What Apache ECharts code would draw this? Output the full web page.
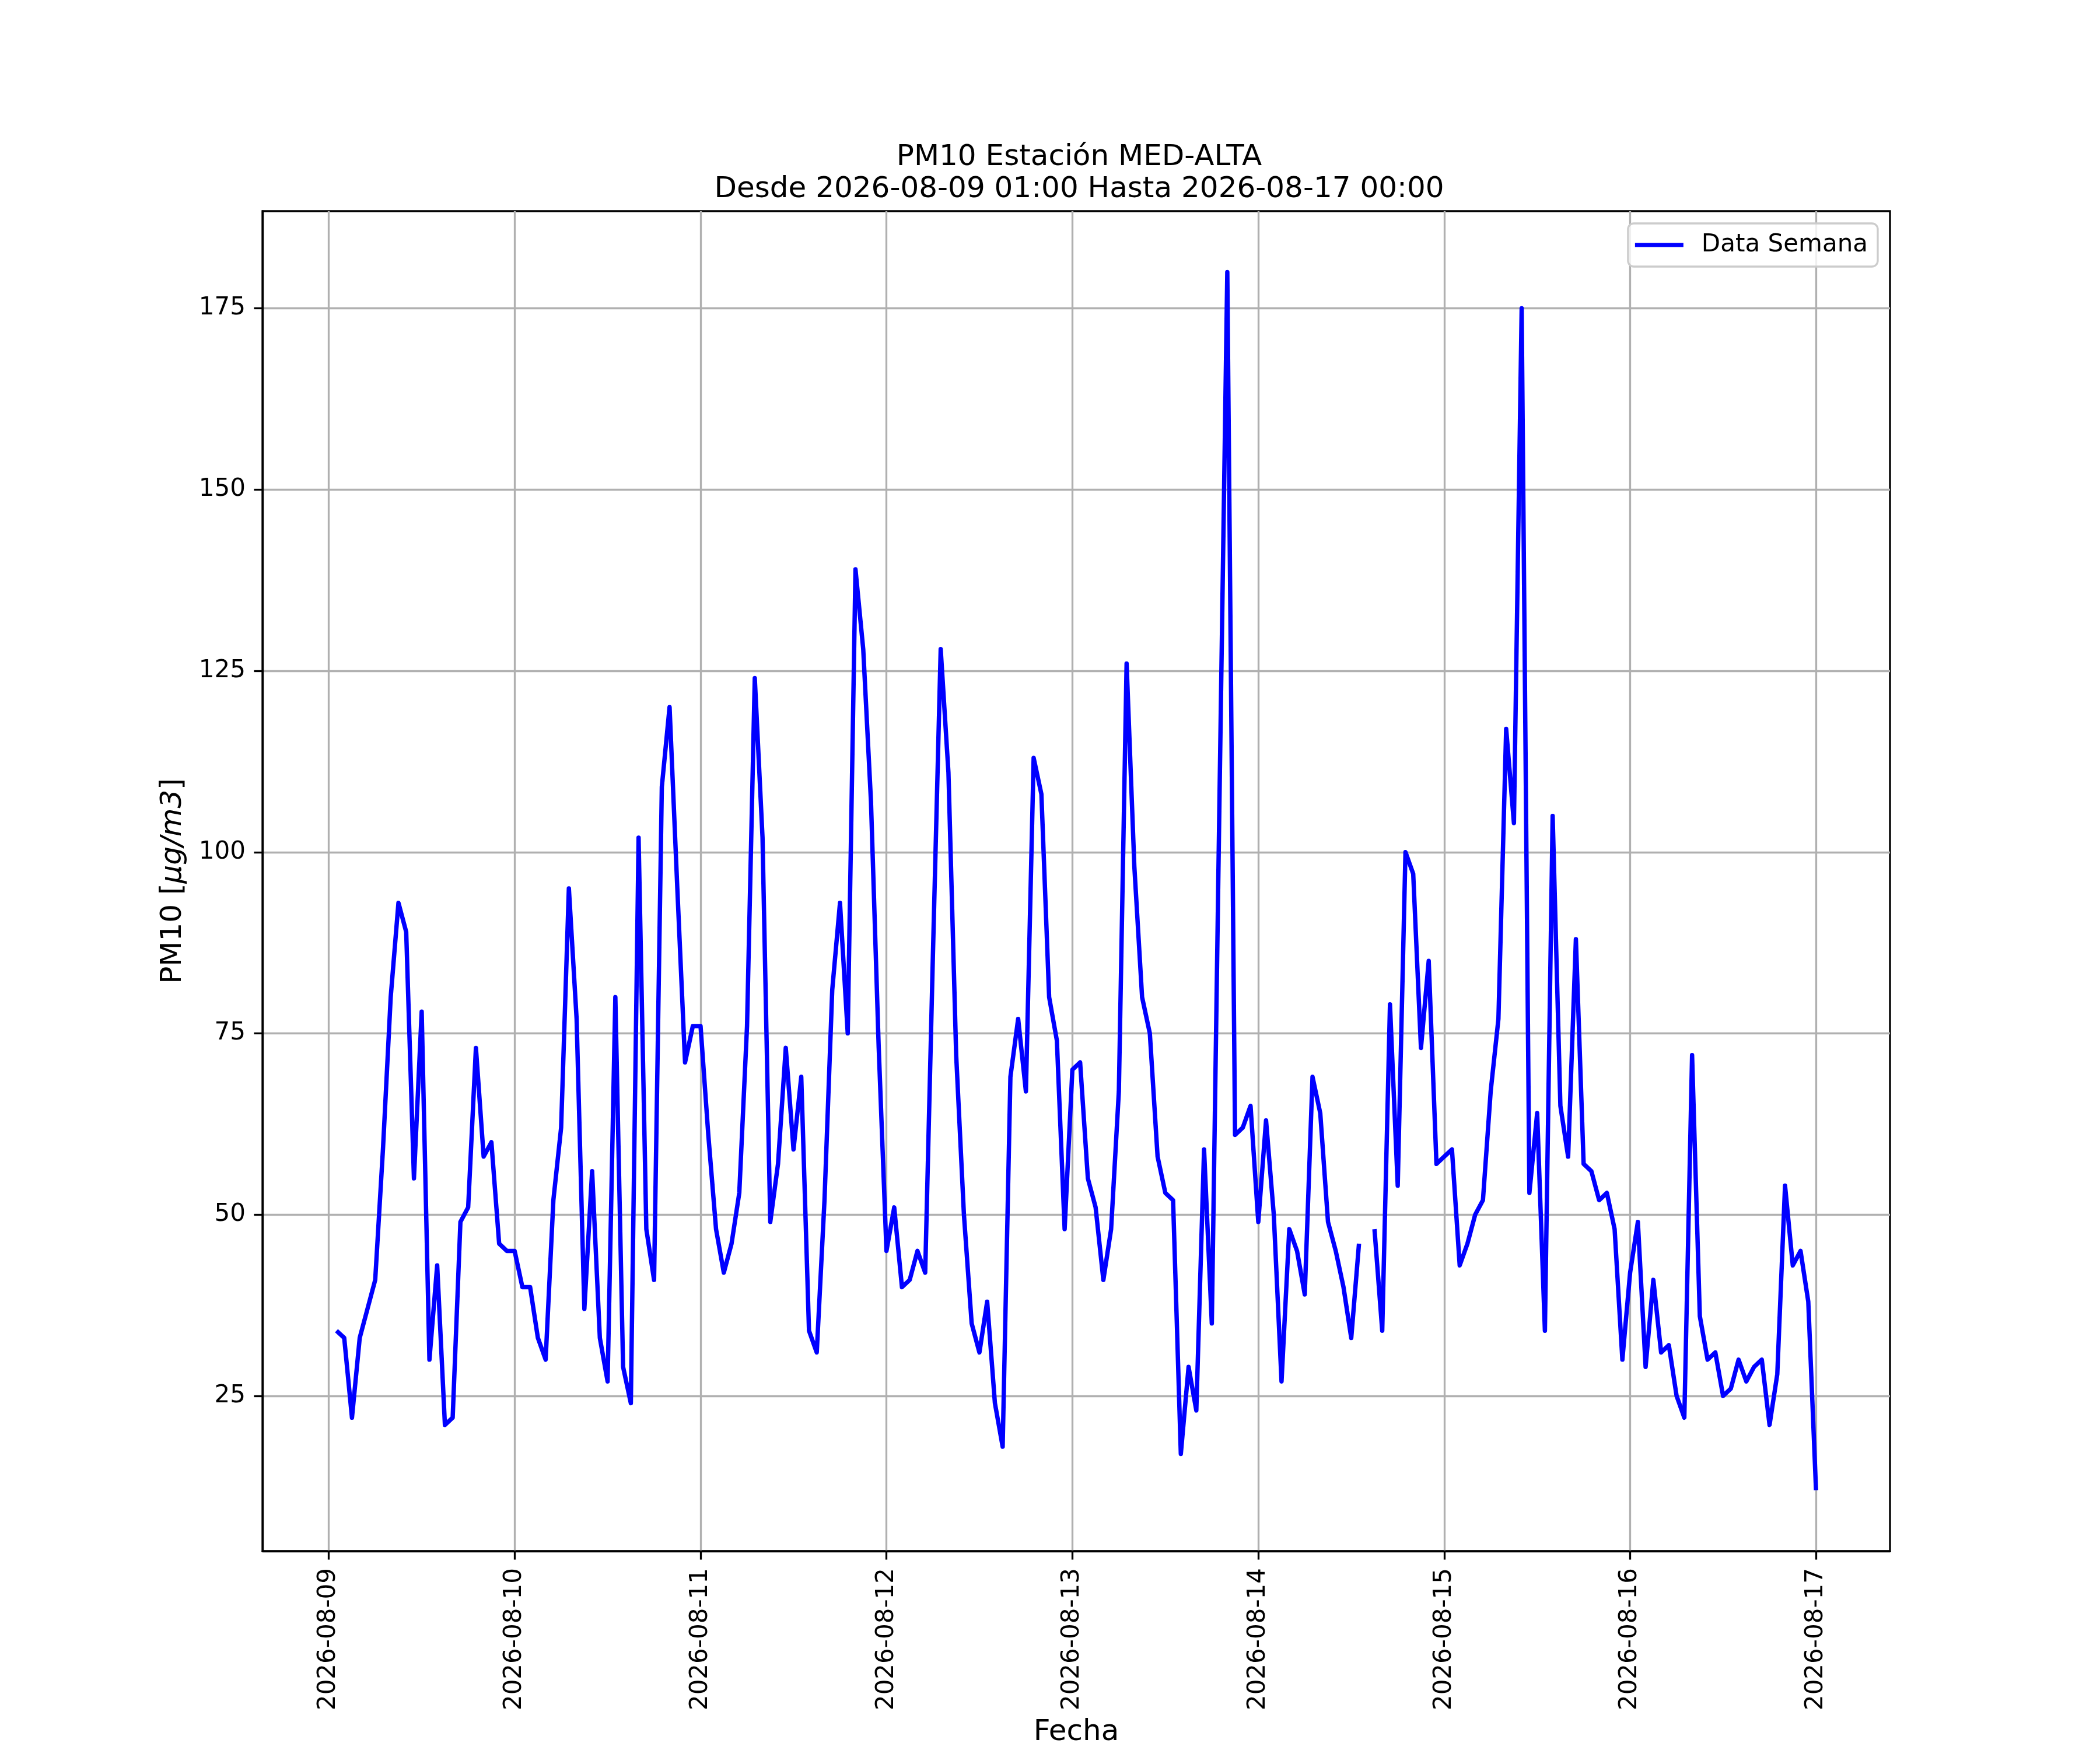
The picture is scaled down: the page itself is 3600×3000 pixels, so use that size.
<!DOCTYPE html>
<html>
<head>
<meta charset="utf-8">
<title>PM10 Estación MED-ALTA</title>
<script src="https://cdn.jsdelivr.net/npm/echarts@6/dist/echarts.min.js"></script>
<style>
  html, body { margin: 0; padding: 0; background: #fff; }
  #chart { width: 3600px; height: 3000px; }
</style>
</head>
<body>
<div id="chart"></div>
<script>
// hourly PM10, first value is 2026-08-09 01:00, last is 2026-08-17 00:00
var firstHour = 1;
var pm10 = [
	34, 33, 22, 33, 37, 41, 59, 80, 93, 89, 55, 78, 30, 43, 21, 22, 49, 51, 73, 58, 60, 46, 45, 45,
	40, 40, 33, 30, 52, 62, 95, 77, 37, 56, 33, 27, 80, 29, 24, 102, 48, 41, 109, 120, 95, 71, 76, 76,
	61, 48, 42, 46, 53, 76, 124, 102, 49, 57, 73, 59, 69, 34, 31, 52, 81, 93, 75, 139, 128, 107, 73, 45,
	51, 40, 41, 45, 42, 86, 128, 111, 72, 50, 35, 31, 38, 24, 18, 69, 77, 67, 113, 108, 80, 74, 48, 70,
	71, 55, 51, 41, 48, 67, 126, 98, 80, 75, 58, 53, 52, 17, 29, 23, 59, 35, 108, 180, 61, 62, 65, 49,
	63, 50, 27, 48, 45, 39, 69, 64, 49, 45, 40, 33, 46, null, 48, 34, 79, 54, 100, 97, 73, 85, 57, 58,
	59, 43, 46, 50, 52, 67, 77, 117, 104, 175, 53, 64, 34, 105, 65, 58, 88, 57, 56, 52, 53, 48, 30, 42,
	49, 29, 41, 31, 32, 25, 22, 72, 36, 30, 31, 25, 26, 30, 27, 29, 30, 21, 28, 54, 43, 45, 38, 12
];

// x ticks (hours since 2026-08-09 00:00) and their labels
var dayTicks = [0, 24, 48, 72, 96, 120, 144, 168, 192];
var dayLabels = ['2026-08-09', '2026-08-10', '2026-08-11', '2026-08-12', '2026-08-13',
	'2026-08-14', '2026-08-15', '2026-08-16', '2026-08-17'];
var yTicks = [25, 50, 75, 100, 125, 150, 175];

var FONT = 'DejaVu Sans';

var seriesData = [];
for (var i = 0; i < pm10.length; i++) {
	seriesData.push([firstHour + i, pm10[i] === null ? '-' : pm10[i]]);
}

// matplotlib style 5% margins
var xFirst = firstHour, xLast = firstHour + pm10.length - 1;
var xPad = (xLast - xFirst) * 0.05;
var vals = pm10.filter(function (v) { return v !== null; });
var yMin = Math.min.apply(null, vals), yMax = Math.max.apply(null, vals);
var yPad = (yMax - yMin) * 0.05;

var chart = echarts.init(document.getElementById('chart'));

var option = {
	animation: false,
	backgroundColor: '#fff',
	title: {
		text: 'PM10 Estación MED-ALTA\nDesde 2026-08-09 01:00 Hasta 2026-08-17 00:00',
		left: 1845,
		top: 238,
		textAlign: 'center',
		textStyle: {
			fontFamily: FONT,
			fontSize: 50,
			fontWeight: 'normal',
			color: '#000',
			lineHeight: 55
		}
	},
	legend: {
		data: ['Data Semana'],
		right: 381,
		top: 383,
		icon: 'rect',
		itemWidth: 83,
		itemHeight: 7,
		padding: [16, 17, 16, 12],
		borderColor: '#cccccc',
		borderWidth: 3.3,
		borderRadius: 10,
		backgroundColor: 'rgba(255,255,255,0.8)',
		textStyle: {
			fontFamily: FONT,
			fontSize: 42,
			color: '#000',
			padding: [0, 0, 0, 26]
		}
	},
	grid: {
		left: 450,
		right: 360,
		top: 362,
		bottom: 316,
		show: true,
		borderColor: '#000',
		borderWidth: 3.3,
		containLabel: false
	},
	xAxis: {
		type: 'value',
		min: xFirst - xPad,
		max: xLast + xPad,
		name: 'Fecha',
		nameLocation: 'middle',
		nameGap: 286,
		nameTextStyle: { fontFamily: FONT, fontSize: 50, color: '#000' },
		axisLine: { show: true, onZero: false, lineStyle: { color: '#000', width: 3.3 } },
		axisTick: {
			show: true,
			inside: false,
			length: 14.6,
			lineStyle: { color: '#000', width: 3.3 },
			customValues: dayTicks
		},
		axisLabel: {
			show: true,
			rotate: 90,
			margin: 29,
			fontFamily: FONT,
			fontSize: 42,
			color: '#000',
			customValues: dayTicks,
			formatter: function (v) {
				var k = dayTicks.indexOf(Math.round(v));
				return k >= 0 ? dayLabels[k] : '';
			}
		},
		splitLine: { show: true, lineStyle: { color: '#b0b0b0', width: 3.3 } }
	},
	yAxis: {
		type: 'value',
		min: yMin - yPad,
		max: yMax + yPad,
		name: 'PM10 [{i|μg/m3}]',
		nameLocation: 'middle',
		nameGap: 128,
		nameRotate: 90,
		nameTextStyle: {
			fontFamily: FONT,
			fontSize: 50,
			color: '#000',
			rich: {
				i: { fontFamily: FONT, fontSize: 50, fontStyle: 'italic', color: '#000' }
			}
		},
		axisLine: { show: true, onZero: false, lineStyle: { color: '#000', width: 3.3 } },
		axisTick: {
			show: true,
			inside: false,
			length: 14.6,
			lineStyle: { color: '#000', width: 3.3 },
			customValues: yTicks
		},
		axisLabel: {
			show: true,
			margin: 29,
			fontFamily: FONT,
			fontSize: 42,
			color: '#000',
			customValues: yTicks
		},
		splitLine: { show: true, lineStyle: { color: '#b0b0b0', width: 3.3 } }
	},
	series: [
		{
			name: 'Data Semana',
			type: 'line',
			data: seriesData,
			showSymbol: false,
			symbol: 'none',
			connectNulls: false,
			itemStyle: { color: '#0000ff' },
			lineStyle: { color: '#0000ff', width: 7.5, join: 'round', cap: 'butt' }
		}
	]
};

chart.setOption(option);
</script>
</body>
</html>
